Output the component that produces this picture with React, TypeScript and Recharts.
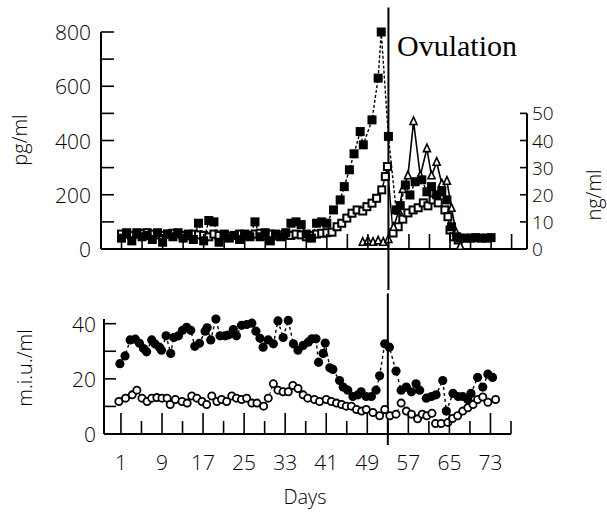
import React from 'react';
import { LineChart, Line, XAxis, YAxis, ReferenceLine } from 'recharts';

const SANS = "'Open Sans', 'Noto Sans', 'DejaVu Sans', sans-serif";
const SERIF = "'Liberation Serif', 'DejaVu Serif', serif";
const INK = '#000';

// ---------- axes ----------
const dayTicks = [1, 5, 9, 13, 17, 21, 25, 29, 33, 37, 41, 45, 49, 53, 57, 61, 65, 69, 73, 77];
const dayLabels = [1, 9, 17, 25, 33, 41, 49, 57, 65, 73];
const pgTicks = [0, 100, 200, 300, 400, 500, 600, 700, 800];
const pgLabels = [0, 200, 400, 600, 800];
const ngTicks = [0, 10, 20, 30, 40, 50];
const miuTicks = [0, 10, 20, 30, 40];
const miuLabels = [0, 20, 40];
const ovulationDay = 53;

// ---------- top panel: filled squares (pg/ml) ----------
const e2Days = [
  1, 2, 3, 4, 5, 6, 7, 8, 9, 10, 11, 12, 13, 14, 15, 16, 17, 18, 19, 20, 21, 22, 23, 24, 25, 26, 27, 28, 29, 30,
  31, 32, 33, 34, 35, 36, 37, 38, 39, 40, 41,
  42.3, 43.6, 44.4, 45.4, 46.3, 47.5, 48.1, 49.8, 51, 51.6, 53, 54.5, 55.3, 56.3, 57.2, 58.2, 59.5, 60.5, 61.4,
  62.4, 63.4, 64.4, 65.3, 66.3, 67, 68, 69, 70, 71, 72, 73,
];
const e2Values = [
  40, 55, 30, 60, 45, 50, 35, 60, 25, 55, 45, 60, 40, 55, 35, 95, 30, 105, 100, 25, 55, 40, 50, 35, 55, 45, 100, 45, 60, 30,
  55, 45, 60, 95, 100, 90, 55, 40, 95, 100, 95,
  144, 181, 230, 292, 351, 433, 384, 476, 630, 800, 415, 144, 160, 236, 199, 248, 255, 211, 230,
  200, 211, 181, 82, 45, 40, 40, 40, 42, 40, 40, 42,
];

// ---------- top panel: open squares (pg/ml) ----------
const openTopDays = [
  1, 2, 3, 4, 5, 6, 7, 8, 9, 10, 11, 12, 13, 14, 15, 16, 17, 18, 19, 20, 21, 22, 23, 24, 25, 26, 27, 28, 29, 30,
  31, 32, 33, 34, 35, 36, 37, 38, 39, 40, 41, 42,
  43, 43.9, 44.9, 45.9, 46.9, 48, 48.8, 49.8, 50.7, 51.7, 52.4, 52.8, 53.9, 54.9, 55.8, 56.8, 57.8, 58.8, 59.8,
  60.7, 61.7, 62.7, 64, 64.6, 65, 65.7, 66.6,
];
const openTopValues = [
  55, 60, 50, 55, 58, 60, 55, 52, 50, 55, 58, 55, 50, 48, 55, 52, 50, 45, 55, 50, 52, 48, 50, 55, 52, 50, 55, 58, 50, 55,
  48, 52, 55, 50, 55, 52, 45, 50, 55, 58, 60, 62,
  82, 95, 114, 132, 144, 140, 156, 169, 187, 218, 267, 304, 59, 82, 110, 133, 144, 152, 170,
  159, 181, 170, 144, 119, 70, 45, 33,
];

// ---------- top panel: triangles (ng/ml) ----------
const progDays = [48, 49, 50, 51, 52, 53, 54, 55, 55.8, 56.8, 57.9, 59.2, 60.5, 61.4, 62.4, 63.4, 64.4, 65.3, 66.2, 67];
const progValues = [2.5, 3, 2.5, 3, 2.5, 3.5, 8, 14, 22, 27, 47, 27, 37, 27, 32, 24, 25, 15, 6, 1];

// ---------- bottom panel: filled circles (m.i.u./ml) ----------
const filledLowDays = [
  0.8, 1.8, 2.8, 3.8, 4.6, 5.4, 6.0, 7.0, 7.6, 8.5, 8.9, 9.8, 10.7, 11.3, 12.2, 13.0, 13.8, 14.6, 15.4, 16.3,
  17.4, 17.8, 18.5, 19.5, 20.3, 21.3, 21.9, 22.9, 23.5, 24.5, 25.5, 26.5, 27.3, 28.1, 28.7, 29.7, 30.7, 31.6,
  32.6, 33.6, 34.6, 35.5, 36.5, 37.5, 38.2, 39.0, 39.5, 40.4, 40.8, 41.7, 42.3, 43.6, 44.3, 45.2, 46.2, 47.2,
  47.8, 48.8, 49.8, 50.7, 51.4, 52.4, 53.3, 54.6, 55.6, 56.6, 57.6, 58.5, 59.2, 60.5, 61.5, 62.4, 63.7, 64.4,
  65.7, 66.7, 67.6, 68.6, 69.2, 70.5, 71.5, 72.5, 73.4,
];
const filledLowValues = [
  25.5, 28.3, 34.1, 34.4, 32.9, 31.0, 29.8, 34.1, 32.7, 31.5, 30.4, 35.6, 29.2, 35.0, 35.6, 37.6, 38.7, 37.6, 31.8, 32.9,
  37.3, 38.5, 34.1, 41.7, 35.6, 35.6, 35.9, 37.9, 35.6, 39.4, 39.7, 40.2, 37.3, 34.7, 31.5, 34.1, 32.7, 41.0,
  35.0, 41.2, 32.7, 30.4, 32.1, 33.3, 34.5, 34.5, 26.0, 29.2, 33.0, 24.0, 23.4, 19.4, 17.0, 15.9, 13.6, 14.2,
  15.3, 13.6, 13.6, 15.9, 21.1, 32.7, 31.5, 22.8, 15.9, 17.0, 15.3, 18.2, 15.9, 13.0, 13.6, 14.2, 19.4, 8.3,
  14.7, 13.6, 13.6, 12.4, 14.7, 20.5, 17.0, 21.7, 20.5,
];

// ---------- bottom panel: open circles (m.i.u./ml) ----------
const openLowDays = [
  0.6, 1.9, 3.2, 4.1, 5.1, 6.1, 7.0, 8.0, 9.0, 10.0, 10.6, 11.6, 12.9, 13.9, 14.8, 15.8, 16.8, 17.7, 18.7, 19.7,
  20.6, 21.6, 22.6, 23.5, 24.5, 25.5, 26.5, 27.5, 28.8, 29.7, 30.7, 31.6, 32.6, 33.6, 34.5, 35.5, 36.5, 37.4,
  38.7, 39.7, 41.0, 42.0, 43.0, 44.0, 44.9, 45.9, 46.9, 47.9, 48.8, 50.1, 51.4, 52.4, 53.4, 54.6, 55.6, 56.6,
  57.6, 58.8, 59.7, 60.6, 61.6, 62.3, 63.4, 64.7, 65.6, 66.6, 67.6, 68.6, 69.6, 70.5, 71.5, 72.5, 74.0,
];
const openLowValues = [
  11.8, 13.0, 14.2, 15.9, 13.0, 11.8, 13.0, 13.2, 13.0, 13.0, 10.7, 12.5, 11.8, 11.2, 13.8, 13.0, 11.8, 10.7, 13.8, 11.8,
  12.5, 11.8, 13.8, 13.0, 12.5, 13.0, 11.2, 11.2, 10.1, 13.0, 18.2, 15.9, 15.3, 15.3, 17.6, 16.5, 14.2, 13.0,
  12.5, 11.8, 12.5, 11.8, 11.2, 10.7, 10.1, 10.1, 8.9, 8.3, 8.9, 7.8, 6.6, 8.9, 6.6, 7.2, 11.2, 8.3,
  7.2, 5.5, 7.2, 6.6, 7.5, 3.8, 3.8, 4.2, 5.6, 6.6, 8.3, 9.5, 10.7, 12.5, 13.4, 11.5, 12.5,
];

const toRows = (days: number[], vals: number[]) => days.map((d, i) => ({ day: d, v: vals[i] }));
const e2Data = toRows(e2Days, e2Values);
const openTopData = toRows(openTopDays, openTopValues);
const progData = toRows(progDays, progValues);
const filledLowData = toRows(filledLowDays, filledLowValues);
const openLowData = toRows(openLowDays, openLowValues);

// ---------- markers ----------
const FilledSquare = (p: any) => (
  <rect key={`fs-${p.index}`} x={p.cx - 4.5} y={p.cy - 4.5} width={9} height={9} fill={INK} />
);
const OpenSquare = (p: any) => (
  <rect key={`os-${p.index}`} x={p.cx - 3.5} y={p.cy - 3.5} width={7} height={7} fill="#fff" stroke={INK} strokeWidth={2} />
);
const OpenTriangle = (p: any) => (
  <path
    key={`tr-${p.index}`}
    d={`M${p.cx},${p.cy - 4.5} L${p.cx + 3.5},${p.cy + 3} L${p.cx - 3.5},${p.cy + 3} Z`}
    fill="#fff"
    stroke={INK}
    strokeWidth={1.6}
  />
);
const FilledCircle = (p: any) => <circle key={`fc-${p.index}`} cx={p.cx} cy={p.cy} r={4.6} fill={INK} />;
const OpenCircle = (p: any) => (
  <circle key={`oc-${p.index}`} cx={p.cx} cy={p.cy} r={3.6} fill="#fff" stroke={INK} strokeWidth={1.8} />
);

// ---------- ticks ----------
const tickText = { fontFamily: SANS, fontSize: 21, fontWeight: 300, fill: INK };
const rightTickText = { fontFamily: SANS, fontSize: 19, fontWeight: 300, fill: INK };

const LeftTick = (labels: number[], len: number, gap: number) => (p: any) => {
  const v = p.payload.value;
  return (
    <g>
      <line x1={p.x} x2={p.x + len} y1={p.y} y2={p.y} stroke={INK} strokeWidth={1.6} />
      {labels.includes(v) && (
        <text x={p.x - gap} y={p.y} textAnchor="end" dominantBaseline="central" {...tickText}>
          {v}
        </text>
      )}
    </g>
  );
};

const RightTick = (p: any) => (
  <g>
    <line x1={p.x} x2={p.x - 7} y1={p.y} y2={p.y} stroke={INK} strokeWidth={1.6} />
    <text x={p.x + 5} y={p.y} textAnchor="start" dominantBaseline="central" {...rightTickText}>
      {p.payload.value}
    </text>
  </g>
);

const TopDayTick = (p: any) => (
  <line x1={p.x} x2={p.x} y1={p.y} y2={p.y - 15} stroke={INK} strokeWidth={1.6} />
);

const BottomDayTick = (p: any) => {
  const v = p.payload.value;
  const major = dayLabels.includes(v);
  return (
    <g>
      <line x1={p.x} x2={p.x} y1={p.y} y2={p.y - (major ? 21 : 13)} stroke={INK} strokeWidth={1.6} />
      {major && (
        <text x={p.x} y={p.y + 28} textAnchor="middle" dominantBaseline="central" {...tickText}>
          {v}
        </text>
      )}
    </g>
  );
};

const axisLine = { stroke: INK, strokeWidth: 2 };
const titleText = { fontFamily: SANS, fontSize: 20, fontWeight: 300, fill: INK };

export default function App() {
  return (
    <div style={{ position: 'absolute', left: 0, top: 0, width: 607, height: 513, background: '#fff' }}>
      {/* top panel */}
      <div style={{ position: 'absolute', left: 0, top: 0 }}>
        <LineChart width={607} height={290} margin={{ top: 32, right: 20, bottom: 21, left: 41 }}>
          <XAxis
            xAxisId="x"
            dataKey="day"
            type="number"
            domain={[-3, 80]}
            allowDataOverflow
            ticks={dayTicks}
            interval={0}
            tickSize={0}
            tickMargin={0}
            tickLine={false}
            tick={TopDayTick}
            axisLine={axisLine}
            height={20}
          />
          <YAxis
            yAxisId="pg"
            type="number"
            domain={[0, 800]}
            ticks={pgTicks}
            interval={0}
            tickSize={0}
            tickMargin={0}
            tickLine={false}
            tick={LeftTick(pgLabels, 13, 10)}
            axisLine={axisLine}
            width={60}
          />
          <YAxis
            yAxisId="ng"
            orientation="right"
            type="number"
            domain={[0, 80]}
            ticks={ngTicks}
            interval={0}
            tickSize={0}
            tickMargin={0}
            tickLine={false}
            tick={RightTick}
            axisLine={false}
            width={60}
          />
          <ReferenceLine
            xAxisId="x"
            yAxisId="ng"
            segment={[{ x: 80, y: 0 }, { x: 80, y: 50 }]}
            stroke={INK}
            strokeWidth={2}
            ifOverflow="visible"
          />
          <ReferenceLine
            xAxisId="x"
            yAxisId="pg"
            segment={[{ x: ovulationDay, y: 890 }, { x: ovulationDay, y: -170 }]}
            stroke={INK}
            strokeWidth={2}
            ifOverflow="visible"
          />
          <Line
            xAxisId="x"
            yAxisId="pg"
            data={openTopData}
            dataKey="v"
            stroke={INK}
            strokeWidth={1.4}
            dot={OpenSquare}
            activeDot={false}
            isAnimationActive={false}
          />
          <Line
            xAxisId="x"
            yAxisId="ng"
            data={progData}
            dataKey="v"
            stroke={INK}
            strokeWidth={1.6}
            dot={OpenTriangle}
            activeDot={false}
            isAnimationActive={false}
          />
          <Line
            xAxisId="x"
            yAxisId="pg"
            data={e2Data}
            dataKey="v"
            stroke={INK}
            strokeWidth={1.4}
            strokeDasharray="3 2"
            dot={FilledSquare}
            activeDot={false}
            isAnimationActive={false}
          />
        </LineChart>
      </div>

      {/* bottom panel */}
      <div style={{ position: 'absolute', left: 0, top: 290 }}>
        <LineChart width={607} height={223} margin={{ top: 29, right: 96, bottom: 39, left: 44 }}>
          <XAxis
            xAxisId="x"
            dataKey="day"
            type="number"
            domain={[-2.3, 77]}
            allowDataOverflow
            ticks={dayTicks}
            interval={0}
            tickSize={0}
            tickMargin={0}
            tickLine={false}
            tick={BottomDayTick}
            axisLine={axisLine}
            height={40}
          />
          <YAxis
            yAxisId="miu"
            type="number"
            domain={[0, 40]}
            ticks={miuTicks}
            interval={0}
            tickSize={0}
            tickMargin={0}
            tickLine={false}
            tick={LeftTick(miuLabels, 12, 8)}
            axisLine={axisLine}
            width={60}
          />
          <ReferenceLine
            xAxisId="x"
            yAxisId="miu"
            segment={[{ x: ovulationDay, y: 51 }, { x: ovulationDay, y: -4 }]}
            stroke={INK}
            strokeWidth={2}
            ifOverflow="visible"
          />
          <Line
            xAxisId="x"
            yAxisId="miu"
            data={openLowData}
            dataKey="v"
            stroke={INK}
            strokeWidth={1}
            strokeDasharray="2 3"
            dot={OpenCircle}
            activeDot={false}
            isAnimationActive={false}
          />
          <Line
            xAxisId="x"
            yAxisId="miu"
            data={filledLowData}
            dataKey="v"
            stroke={INK}
            strokeWidth={1.4}
            strokeDasharray="3 3"
            dot={FilledCircle}
            activeDot={false}
            isAnimationActive={false}
          />
        </LineChart>
      </div>

      {/* axis titles */}
      <svg width={607} height={513} style={{ position: 'absolute', left: 0, top: 0, pointerEvents: 'none' }}>
        <text x={19} y={140} transform="rotate(-90 19 140)" textAnchor="middle" dominantBaseline="central" {...titleText}>
          pg/ml
        </text>
        <text x={593} y={195} transform="rotate(-90 593 195)" textAnchor="middle" dominantBaseline="central" {...titleText}>
          ng/ml
        </text>
        <text x={24} y={368} transform="rotate(-90 24 368)" textAnchor="middle" dominantBaseline="central" {...titleText}>
          m.i.u./ml
        </text>
        <text x={305} y={496} textAnchor="middle" dominantBaseline="central" {...titleText}>
          Days
        </text>
        <text x={397} y={56} textAnchor="start" fontFamily={SERIF} fontSize={30} fill={INK}>
          Ovulation
        </text>
      </svg>
    </div>
  );
}
